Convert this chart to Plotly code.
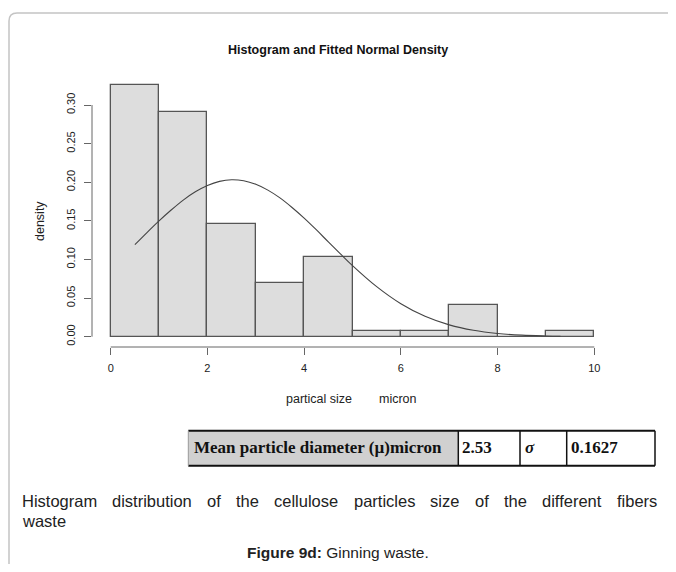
import plotly.graph_objects as go

# ---- data ----
bin_left = [0, 1, 2, 3, 4, 5, 6, 7, 8, 9]
bin_right = [1, 2, 3, 4, 5, 6, 7, 8, 9, 10]
density = [0.326, 0.2906, 0.1455, 0.069, 0.1036, 0.0069, 0.0069, 0.0414, 0.0, 0.0069]

curve_x = [0.5, 0.75, 1.0, 1.25, 1.5, 1.75, 2.0, 2.25, 2.5, 2.75, 3.0, 3.25, 3.5, 3.75,
           4.0, 4.25, 4.5, 4.75, 5.0, 5.5, 6.0, 6.5, 7.0, 7.5, 8.0, 8.5, 9.0, 9.3]
curve_y = [0.1191, 0.1348, 0.1499, 0.1640, 0.1769, 0.1876, 0.1958, 0.2011, 0.2032, 0.2019,
           0.1973, 0.1898, 0.1797, 0.1673, 0.1535, 0.1385, 0.1228, 0.1073, 0.0921, 0.0648,
           0.0427, 0.0264, 0.0153, 0.0083, 0.0042, 0.0020, 0.0009, 0.0005]

x_ticks = [0, 2, 4, 6, 8, 10]
y_ticks = [0.00, 0.05, 0.10, 0.15, 0.20, 0.25, 0.30]
y_ticktext = ["0.00", "0.05", "0.10", "0.15", "0.20", "0.25", "0.30"]

title = "Histogram and Fitted Normal Density"
x_title_a = "partical size"
x_title_b = "micron"
y_title = "density"
table_cells = ["Mean particle diameter (\u00b5)micron", "2.53", "\u03c3", "0.1627"]
caption_1 = "Histogram distribution of the cellulose particles size of the different fibers"
caption_2 = "waste"
fig_label = "Figure 9d:"
fig_name = " Ginning waste."

# ---- layout geometry (page pixels; the page body has an 8px margin) ----
PAGE_W, PAGE_H = 676, 572
OFF = 8
W, H = PAGE_W - 2 * OFF, PAGE_H - 2 * OFF
L, R, T, B = 92, 610, 70, 347
X0PX, X10PX = 110.7, 594.3
Y0PX, Y30PX = 336.7, 105.0
kx = (X10PX - X0PX) / 10.0
ky = (Y0PX - Y30PX) / 0.30
xmin = -(X0PX - L) / kx
xmax = 10 + (R - X10PX) / kx
ymin = -(B - Y0PX) / ky
ymax = (Y0PX - T) / ky


def px(xp):
    return (xp - L) / (R - L)


def py(yp):
    return (B - yp) / (B - T)


SANS = "Liberation Sans, Arial, Helvetica, sans-serif"
SERIF = "Liberation Serif, Times New Roman, serif"
AXC = "#666666"

centers = [(a + b) / 2 for a, b in zip(bin_left, bin_right)]
widths = [b - a for a, b in zip(bin_left, bin_right)]

fig = go.Figure()
fig.add_trace(go.Bar(
    x=centers, y=density, width=widths,
    marker=dict(color="#dddddd", line=dict(color="#555555", width=1.3)),
    hoverinfo="skip", showlegend=False,
))
fig.add_trace(go.Scatter(
    x=curve_x, y=curve_y, mode="lines", line=dict(color="#444444", width=1.1, shape="spline"),
    hoverinfo="skip", showlegend=False,
))

shapes = []
shapes.append(dict(type="line", xref="x", yref="paper", x0=0, x1=10, y0=0, y1=0,
                   line=dict(color=AXC, width=1)))
shapes.append(dict(type="line", xref="paper", yref="y", x0=0, x1=0, y0=0, y1=0.30,
                   line=dict(color=AXC, width=1)))

# page frame with rounded corner
fx, fy, rad = 9, 13, 8
path = (f"M {px(fx)},{py(PAGE_H + 5)} L {px(fx)},{py(fy + rad)} "
        f"Q {px(fx)},{py(fy)} {px(fx + rad)},{py(fy)} L {px(PAGE_W + 5)},{py(fy)}")
shapes.append(dict(type="path", xref="paper", yref="paper", path=path,
                   line=dict(color="#c4c4c4", width=1.5)))

# table
tl, tr, tt, tb = 188.3, 655, 430.7, 465.7
cols = [458.3, 520, 566.7]
shapes.append(dict(type="rect", xref="paper", yref="paper", x0=px(tl), x1=px(cols[0]),
                   y0=py(tt), y1=py(tb), fillcolor="#d0d0d0", line=dict(width=0), layer="below"))
shapes.append(dict(type="line", xref="paper", yref="paper", x0=px(tl), x1=px(tr),
                   y0=py(tt), y1=py(tt), line=dict(color="#111111", width=2)))
shapes.append(dict(type="line", xref="paper", yref="paper", x0=px(tl), x1=px(tr),
                   y0=py(tb), y1=py(tb), line=dict(color="#111111", width=2)))
shapes.append(dict(type="line", xref="paper", yref="paper", x0=px(tl), x1=px(tl),
                   y0=py(tt), y1=py(tb), line=dict(color="#999999", width=1)))
for c in cols + [tr]:
    shapes.append(dict(type="line", xref="paper", yref="paper", x0=px(c), x1=px(c),
                       y0=py(tt), y1=py(tb), line=dict(color="#111111", width=1.5)))

ann = []


def add_text(text, x, y, size, family=SANS, anchor="center", angle=0, color="#222222"):
    ann.append(dict(text=text, x=px(x), y=py(y), xref="paper", yref="paper",
                    showarrow=False, xanchor=anchor, yanchor="middle", textangle=angle,
                    font=dict(family=family, size=size, color=color)))


add_text("<b>" + title + "</b>", 338, 50, 12.5, color="#111111")
add_text(x_title_a, 319, 399, 12.5)
add_text(x_title_b, 398, 399, 12.5)
add_text(y_title, 40, 221, 12.5, angle=-90)

cell_x = [191.5, 460, 523, 569.3]
for i, (txt, cx) in enumerate(zip(table_cells, cell_x)):
    t = "<b><i>" + txt + "</i></b>" if i == 2 else "<b>" + txt + "</b>"
    add_text(t, cx, 447, 17, family=SERIF, anchor="left", color="#111111")

# justified first caption line (Arial/Liberation Sans advance widths, per 1000 em)
AW = {"H": 722, "i": 222, "s": 500, "t": 278, "o": 556, "g": 556, "r": 333, "a": 556,
      "m": 833, "d": 556, "b": 556, "u": 556, "n": 556, "f": 278, "h": 556, "e": 556,
      "c": 500, "l": 222, "p": 556, "z": 500, "w": 722}
CAP = 16.5
words = caption_1.split(" ")
wwidth = [sum(AW.get(ch, 556) for ch in wd) * CAP / 1000.0 for wd in words]
left_x, right_x = 20, 655
gap = (right_x - left_x - sum(wwidth)) / (len(words) - 1)
cur = left_x
for wd, ww in zip(words, wwidth):
    add_text(wd, cur, 501, CAP, anchor="left")
    cur += ww + gap
add_text(caption_2, 20, 521, CAP, anchor="left")
add_text("<b>" + fig_label + "</b>" + fig_name, 338, 552, 15.5)

fig.update_layout(
    width=W, height=H,
    margin=dict(l=L - OFF, r=W - (R - OFF), t=T - OFF, b=H - (B - OFF), pad=0),
    paper_bgcolor="white", plot_bgcolor="white",
    bargap=0, showlegend=False,
    shapes=shapes, annotations=ann,
    xaxis=dict(range=[xmin, xmax], tickvals=x_ticks, ticks="outside", ticklen=7,
               tickcolor=AXC, showgrid=False, zeroline=False, showline=False,
               ticklabelstandoff=4,
               tickfont=dict(family=SANS, size=11, color="#222222")),
    yaxis=dict(range=[ymin, ymax], tickvals=y_ticks, ticktext=y_ticktext, ticks="outside",
               ticklen=7, tickcolor=AXC, showgrid=False, zeroline=False, showline=False,
               tickangle=-90, ticklabelstandoff=5,
               tickfont=dict(family=SANS, size=11, color="#222222")),
)

fig.write_html("out.html")
